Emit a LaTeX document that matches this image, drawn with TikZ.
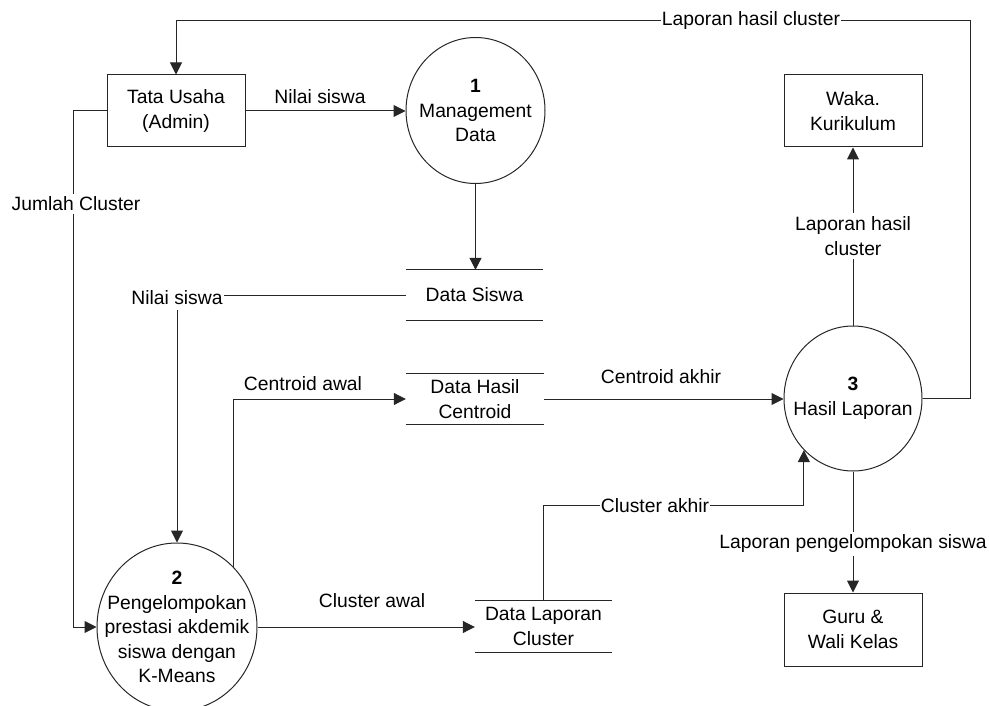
\documentclass[tikz,border=0pt]{standalone}
\usepackage{fontspec}
\setmainfont{Liberation Sans}
\usetikzlibrary{arrows.meta,shapes.geometric}
\begin{document}
\begin{tikzpicture}[x=1pt,y=-1pt,
  font=\fontsize{19.3}{24.5}\selectfont,
  every node/.style={align=center, inner sep=0pt},
  flow/.style={draw=black!85, line width=1pt},
  arr/.style={flow, -{Triangle[length=12pt,width=12pt]}},
  entity/.style={draw=black!85, line width=1pt, rectangle, minimum width=138pt, minimum height=72pt},
  proc/.style={draw=black!85, line width=1pt, ellipse, inner sep=0pt},
  store/.style={minimum width=137pt, minimum height=50pt},
  lbl/.style={fill=white, inner xsep=1pt, inner ysep=3pt}]
\clip (0,0) rectangle (989,706);

% external entities
\node[entity] (tu) at (176,111) {Tata Usaha\\(Admin)};
\node[entity] (waka) at (853,111) {Waka.\\Kurikulum};
\node[entity, minimum height=73pt] (guru) at (853,629.5) {Guru \&\\Wali Kelas};

% processes
\node[proc, minimum width=139pt, minimum height=146pt] (p1) at (475.5,110.5) {};
\node (p1txt) at (p1.center) {\textbf{1}\\Management\\Data};
\node[proc, minimum width=160pt, minimum height=168pt] (p2) at (177,627) {};
\node (p2txt) at (p2.center) {\textbf{2}\\Pengelompokan\\prestasi akdemik\\siswa dengan\\K-Means};
\node[proc, minimum width=138pt, minimum height=145pt] (p3) at (853,398.5) {};
\node (p3txt) at (p3.center) {\textbf{3}\\Hasil Laporan};

% data stores
\node[store] (ds) at (474.5,295) {Data Siswa};
\node[store, minimum width=138pt] (dhc) at (475,399) {Data Hasil\\Centroid};
\node[store, minimum height=51pt] (dlc) at (543.5,626.5) {Data Laporan\\Cluster};
\foreach \s in {ds,dhc,dlc}
  \draw[flow] (\s.north west) -- (\s.north east) (\s.south west) -- (\s.south east);

% data flows
\coordinate (tr) at (970,21);
\coordinate (tl) at (73,111);
\draw[arr] (tu.east) -- (tu.east -| p1.west);
\draw[arr] (p1.south) -- (p1.south |- ds.north);
\draw[arr] (ds.west) -| (p2.north);
\draw[arr] (p2.north east) |- (dhc.west);
\draw[arr] (dhc.east) -- (dhc.east -| p3.west);
\draw[arr] (p2.east) -- (p2.east -| dlc.west);
\draw[arr] (dlc.north) -- ++(0,-95) -| (p3.south west);
\draw[arr] (p3.north) -- (waka.south);
\draw[arr] (p3.south) -- (guru.north);
\draw[arr] (p3.east) -| (tr) -| (tu.north);
\draw[arr] (tu.west) -- (tl) |- (p2.west);

% flow labels
\node[lbl] (l1) at (320,97) {Nilai siswa};
\node[lbl] (l2) at (751,21) {Laporan hasil cluster};
\node[lbl] (l3) at (76,204) {Jumlah Cluster};
\node[lbl, inner ysep=5pt] (l4) at (177,298) {Nilai siswa};
\node[lbl] (l5) at (303,384) {Centroid awal};
\node[lbl] (l6) at (661,377) {Centroid akhir};
\node[lbl] (l7) at (372,601) {Cluster awal};
\node[lbl] (l8) at (655,506) {Cluster akhir};
\node[lbl, inner ysep=4pt] (l9) at (853,236) {Laporan hasil\\cluster};
\node[lbl] (l10) at (853,544) {Laporan pengelompokan siswa};
\end{tikzpicture}
\end{document}
